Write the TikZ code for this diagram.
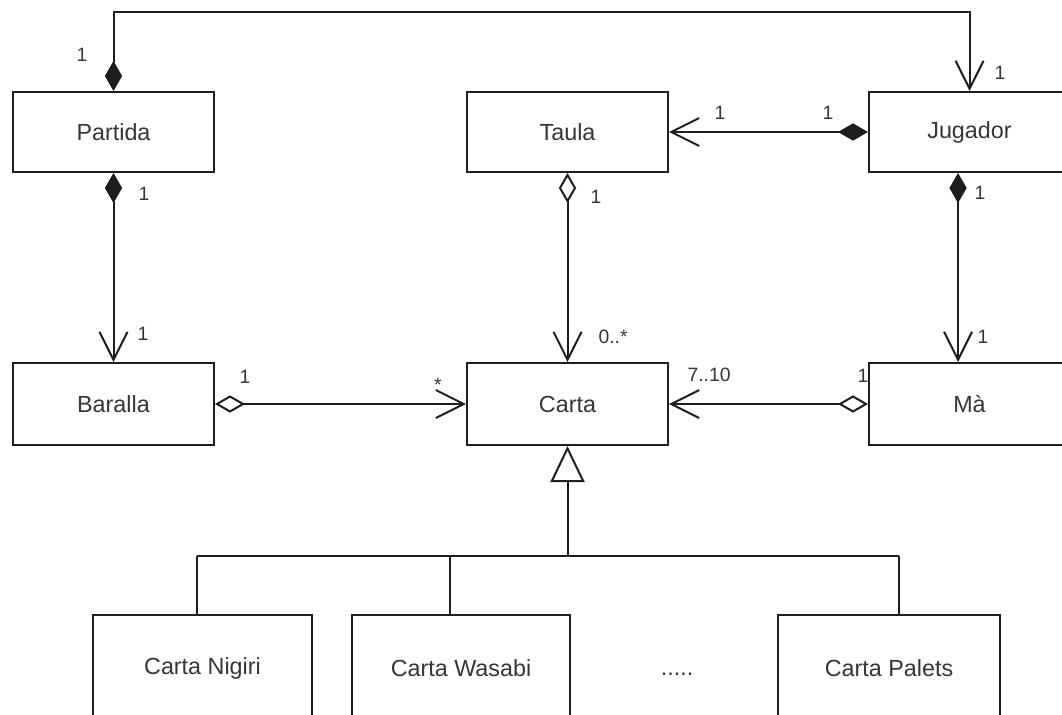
\documentclass[tikz,border=0pt]{standalone}
\usepackage{fontspec}
\setmainfont{Liberation Sans}
\usetikzlibrary{arrows.meta,calc}
\definecolor{ink}{HTML}{1E1E1E}
\definecolor{txt}{HTML}{363636}
\begin{document}
\begin{tikzpicture}[x=0.75pt,y=-0.75pt,
  cls/.style={draw=ink, line width=1.5pt, fill=white, inner sep=0pt,
    minimum width=150.75pt, minimum height=60pt,
    font=\fontsize{17.5}{19}\selectfont, text=txt},
  sub/.style={cls, minimum height=79.5pt},
  mult/.style={font=\fontsize{14.5}{16}\selectfont, text=txt, inner sep=0pt},
  link/.style={draw=ink, line width=1.5pt, line join=miter},
  comp/.tip={Diamond[length=22.5pt,width=13pt]},
  aggr/.tip={Diamond[open,fill=white,length=22.5pt,width=13pt]},
  nav/.tip={Straight Barb[length=21pt,width=21pt]},
  gen/.tip={Triangle[open,fill=white,length=27pt,width=25.5pt]}]
\useasboundingbox (0,0) rectangle (1062,714);

% classes
\node[cls] (partida) at (113.5,132) {Partida};
\node[cls] (taula) at (567.5,132) {Taula};
\node[cls] (jugador) at (969.5,132) {Jugador};
\node[cls, minimum height=61.5pt] (baralla) at (113.5,404) {Baralla};
\node[cls, minimum height=61.5pt] (carta) at (567.5,404) {Carta};
\node[cls, minimum height=61.5pt] (ma) at (969.5,404) {Mà};
\node[sub, minimum width=164.25pt] (nigiri) at (202.5,668) {Carta Nigiri};
\node[sub, minimum width=163.5pt] (wasabi) at (461,668) {Carta Wasabi};
\node[sub, minimum width=166.5pt] (palets) at (889,668) {Carta Palets};
\node[anchor=base, font=\fontsize{17.5}{19}\selectfont, text=txt, inner sep=0pt]
  (more) at (677,675) {.....};

% Partida -- Jugador (over the top)
\coordinate (pt) at (113.5,12);
\coordinate (jt) at (969.5,12);
\draw[link, comp-nav] (partida.north) -- (pt) -- (jt) -- (jugador.north);

% Jugador -> Taula
\draw[link, comp-nav] (jugador.west) -- (taula.east);

% Partida -> Baralla
\draw[link, comp-nav] (partida.south) -- (baralla.north);

% Taula -> Carta
\draw[link, aggr-nav] (taula.south) -- (carta.north);

% Jugador -> Mà
\draw[link, comp-nav] ([xshift=-8.6pt]jugador.south) -- ([xshift=-8.6pt]ma.north);

% Baralla -> Carta
\draw[link, aggr-nav] (baralla.east) -- (carta.west);

% Mà -> Carta
\draw[link, aggr-nav] (ma.west) -- (carta.east);

% generalisation of Carta
\coordinate (hub) at (567.5,556);
\coordinate (jn) at (197,556);
\coordinate (jw) at (450,556);
\coordinate (jp) at (899,556);
\draw[link, -gen] (hub) -- (carta.south);
\draw[link] (jn) -- (jp);
\draw[link] (jn) -- (jn |- nigiri.north);
\draw[link] (jw) -- (jw |- wasabi.north);
\draw[link] (jp) -- (jp |- palets.north);

% multiplicities
\node[mult] (m1) at (82,55) {1};
\node[mult] (m2) at (1000,73) {1};
\node[mult] (m3) at (720,113) {1};
\node[mult] (m4) at (828,113) {1};
\node[mult] (m5) at (144,194) {1};
\node[mult] (m6) at (143,334) {1};
\node[mult] (m7) at (596,197) {1};
\node[mult] (m8) at (613,337) {0..*};
\node[mult] (m9) at (980,193) {1};
\node[mult] (m10) at (983,337) {1};
\node[mult] (m11) at (245,377) {1};
\node[mult] (m12) at (438,385) {*};
\node[mult] (m13) at (709,375) {7..10};
\node[mult] (m14) at (863,376) {1};
\end{tikzpicture}
\end{document}
